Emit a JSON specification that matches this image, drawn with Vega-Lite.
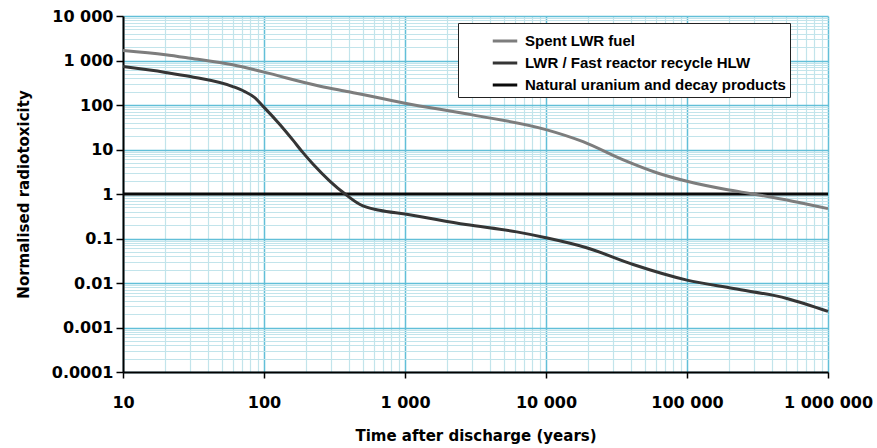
{
  "$schema": "https://vega.github.io/schema/vega-lite/v6.json",
  "width": 705,
  "height": 356,
  "autosize": {"type": "none"},
  "padding": {"left": 123, "top": 16, "right": 49, "bottom": 76},
  "background": "white",
  "config": {
    "view": {"stroke": null},
    "font": "DejaVu Sans"
  },
  "data": {
    "values": [
      {"series": "Natural uranium and decay products", "t": 10, "v": 1},
      {"series": "Natural uranium and decay products", "t": 1000000, "v": 1},
      {"series": "Spent LWR fuel", "t": 10, "v": 1670},
      {"series": "Spent LWR fuel", "t": 20, "v": 1350},
      {"series": "Spent LWR fuel", "t": 30, "v": 1125},
      {"series": "Spent LWR fuel", "t": 60, "v": 800},
      {"series": "Spent LWR fuel", "t": 100, "v": 547},
      {"series": "Spent LWR fuel", "t": 250, "v": 265},
      {"series": "Spent LWR fuel", "t": 400, "v": 198},
      {"series": "Spent LWR fuel", "t": 1000, "v": 110},
      {"series": "Spent LWR fuel", "t": 3000, "v": 60},
      {"series": "Spent LWR fuel", "t": 10000, "v": 28},
      {"series": "Spent LWR fuel", "t": 18300, "v": 15},
      {"series": "Spent LWR fuel", "t": 35000, "v": 5.9},
      {"series": "Spent LWR fuel", "t": 61000, "v": 3.0},
      {"series": "Spent LWR fuel", "t": 100000, "v": 1.93},
      {"series": "Spent LWR fuel", "t": 190000, "v": 1.26},
      {"series": "Spent LWR fuel", "t": 295000, "v": 1.0},
      {"series": "Spent LWR fuel", "t": 560000, "v": 0.69},
      {"series": "Spent LWR fuel", "t": 1000000, "v": 0.47},
      {"series": "LWR / Fast reactor recycle HLW", "t": 10, "v": 729},
      {"series": "LWR / Fast reactor recycle HLW", "t": 20, "v": 540},
      {"series": "LWR / Fast reactor recycle HLW", "t": 30, "v": 436},
      {"series": "LWR / Fast reactor recycle HLW", "t": 60, "v": 260},
      {"series": "LWR / Fast reactor recycle HLW", "t": 73, "v": 200},
      {"series": "LWR / Fast reactor recycle HLW", "t": 85, "v": 150},
      {"series": "LWR / Fast reactor recycle HLW", "t": 99, "v": 92},
      {"series": "LWR / Fast reactor recycle HLW", "t": 130, "v": 36},
      {"series": "LWR / Fast reactor recycle HLW", "t": 161, "v": 16},
      {"series": "LWR / Fast reactor recycle HLW", "t": 189, "v": 8.5},
      {"series": "LWR / Fast reactor recycle HLW", "t": 224, "v": 4.6},
      {"series": "LWR / Fast reactor recycle HLW", "t": 294, "v": 1.93},
      {"series": "LWR / Fast reactor recycle HLW", "t": 376, "v": 1.0},
      {"series": "LWR / Fast reactor recycle HLW", "t": 480, "v": 0.58},
      {"series": "LWR / Fast reactor recycle HLW", "t": 660, "v": 0.43},
      {"series": "LWR / Fast reactor recycle HLW", "t": 1000, "v": 0.355},
      {"series": "LWR / Fast reactor recycle HLW", "t": 2700, "v": 0.206},
      {"series": "LWR / Fast reactor recycle HLW", "t": 6200, "v": 0.141},
      {"series": "LWR / Fast reactor recycle HLW", "t": 10000, "v": 0.104},
      {"series": "LWR / Fast reactor recycle HLW", "t": 19400, "v": 0.062},
      {"series": "LWR / Fast reactor recycle HLW", "t": 41500, "v": 0.026},
      {"series": "LWR / Fast reactor recycle HLW", "t": 100000, "v": 0.0116},
      {"series": "LWR / Fast reactor recycle HLW", "t": 214000, "v": 0.0075},
      {"series": "LWR / Fast reactor recycle HLW", "t": 510000, "v": 0.0045},
      {"series": "LWR / Fast reactor recycle HLW", "t": 1000000, "v": 0.0023}
    ]
  },
  "mark": {"type": "line", "strokeWidth": 3, "interpolate": "monotone"},
  "encoding": {
    "x": {
      "field": "t",
      "type": "quantitative",
      "scale": {"type": "log", "domain": [10, 1000000], "nice": false},
      "axis": {
        "title": "Time after discharge (years)",
        "titleFont": "DejaVu Sans",
        "titleFontSize": 15,
        "titleFontWeight": "bold",
        "titleColor": "black",
        "titlePadding": 18,
        "labelFont": "DejaVu Sans",
        "labelFontSize": 16,
        "labelFontWeight": "bold",
        "labelColor": "black",
        "labelPadding": 16,
        "labelFlush": false,
        "labelOverlap": false,
        "values": [10,20,30,40,50,60,70,80,90,100,200,300,400,500,600,700,800,900,1000,2000,3000,4000,5000,6000,7000,8000,9000,10000,20000,30000,40000,50000,60000,70000,80000,90000,100000,200000,300000,400000,500000,600000,700000,800000,900000,1000000],
        "labelExpr": "abs(log(datum.value)/LN10 - round(log(datum.value)/LN10)) < 0.001 ? replace(format(datum.value, ','), /,/g, ' ') : ''",
        "domainColor": "black",
        "domainWidth": 2,
        "tickColor": "black",
        "tickWidth": 1.5,
        "tickSize": 6,
        "tickOpacity": {"condition": {"test": "abs(log(datum.value)/LN10 - round(log(datum.value)/LN10)) < 0.001", "value": 1}, "value": 0},
        "grid": true,
        "gridColor": {"condition": {"test": "abs(log(datum.value)/LN10 - round(log(datum.value)/LN10)) < 0.001", "value": "#62bfd8"}, "value": "#c2e4eb"},
        "gridWidth": {"condition": {"test": "abs(log(datum.value)/LN10 - round(log(datum.value)/LN10)) < 0.001", "value": 1.5}, "value": 1.2}
      }
    },
    "y": {
      "field": "v",
      "type": "quantitative",
      "scale": {"type": "log", "domain": [0.0001, 10000], "nice": false},
      "axis": {
        "title": "Normalised radiotoxicity",
        "titleFont": "DejaVu Sans",
        "titleFontSize": 15,
        "titleFontWeight": "bold",
        "titleColor": "black",
        "titlePadding": 20,
        "labelFont": "DejaVu Sans",
        "labelFontSize": 16,
        "labelFontWeight": "bold",
        "labelColor": "black",
        "labelPadding": 3,
        "labelFlush": false,
        "labelOverlap": false,
        "values": [0.0001,0.0002,0.0003,0.0004,0.0005,0.0006,0.0007,0.0008,0.0009,0.001,0.002,0.003,0.004,0.005,0.006,0.007,0.008,0.009,0.01,0.02,0.03,0.04,0.05,0.06,0.07,0.08,0.09,0.1,0.2,0.3,0.4,0.5,0.6,0.7,0.8,0.9,1,2,3,4,5,6,7,8,9,10,20,30,40,50,60,70,80,90,100,200,300,400,500,600,700,800,900,1000,2000,3000,4000,5000,6000,7000,8000,9000,10000],
        "labelExpr": "abs(log(datum.value)/LN10 - round(log(datum.value)/LN10)) < 0.001 ? replace(format(datum.value, ','), /,/g, ' ') : ''",
        "domainColor": "black",
        "domainWidth": 2,
        "tickColor": "black",
        "tickWidth": 1.5,
        "tickSize": 7,
        "tickOpacity": {"condition": {"test": "abs(log(datum.value)/LN10 - round(log(datum.value)/LN10)) < 0.001", "value": 1}, "value": 0},
        "grid": true,
        "gridColor": {"condition": {"test": "abs(log(datum.value)/LN10 - round(log(datum.value)/LN10)) < 0.001", "value": "#62bfd8"}, "value": "#c2e4eb"},
        "gridWidth": {"condition": {"test": "abs(log(datum.value)/LN10 - round(log(datum.value)/LN10)) < 0.001", "value": 1.5}, "value": 1.2}
      }
    },
    "color": {
      "field": "series",
      "type": "nominal",
      "scale": {
        "domain": ["Spent LWR fuel", "LWR / Fast reactor recycle HLW", "Natural uranium and decay products"],
        "range": ["#7d7d7d", "#353535", "#0a0a0a"]
      },
      "legend": {
        "title": null,
        "orient": "none",
        "legendX": 335,
        "legendY": 7,
        "padding": 4,
        "symbolOffset": 29,
        "symbolType": "stroke",
        "symbolSize": 600,
        "symbolStrokeWidth": 3,
        "labelFont": "Liberation Sans",
        "labelFontSize": 15,
        "labelFontWeight": "bold",
        "labelColor": "black",
        "labelOffset": 6,
        "rowPadding": -1,
        "strokeColor": "#222222",
        "fillColor": "white",
        "labelLimit": 400
      }
    },
    "order": {"field": "t", "type": "quantitative"}
  }
}
